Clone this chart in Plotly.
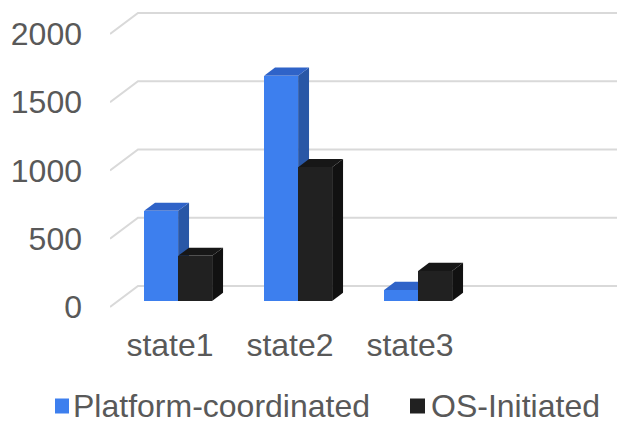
import plotly.graph_objects as go

# ---- data ----
categories = ["state1", "state2", "state3"]
series_names = ["Platform-coordinated", "OS-Initiated"]
platform_coordinated = [660, 1650, 80]
os_initiated = [330, 980, 220]
y_ticks = [0, 500, 1000, 1500, 2000]

# ---- geometry (pixels) ----
W, H = 617, 424
PLOT_L, PLOT_R, PLOT_T, PLOT_B = 110, 617, 0, 320
CAT_PX = 120.0                 # pixels per category slot
Y_SCALE = 273.0 / 2000.0       # pixels per value unit
ZERO_PX = 307                  # pixel row of value 0 on the front plane
DEPTH_PX = (28.0, 21.0)        # full floor depth offset (right, up)
BAR_FRONT = 0.29               # bar front face position along the depth
BAR_DEPTH = 0.39               # bar thickness along the depth
BAR_W_PX = 34.0
FS = 32

x_lo = -0.5
x_hi = x_lo + (PLOT_R - PLOT_L) / CAT_PX
y_lo = -(PLOT_B - ZERO_PX) / Y_SCALE
y_hi = (ZERO_PX - PLOT_T) / Y_SCALE

DX = DEPTH_PX[0] / CAT_PX
DY = DEPTH_PX[1] / Y_SCALE
bar_dx, bar_dy = BAR_FRONT * DX, BAR_FRONT * DY
side_dx, side_dy = BAR_DEPTH * DX, BAR_DEPTH * DY
bar_w = BAR_W_PX / CAT_PX

TEXT = "#595959"
FONT = "Liberation Sans, Arial, sans-serif"
GRID = "#d9d9d9"
colors = {
    "front": ["#3d7fee", "#212121"],
    "top": ["#2f63c8", "#171717"],
    "side": ["#2957a6", "#111111"],
}

xs = list(range(len(categories)))
series = [platform_coordinated, os_initiated]

fig = go.Figure()
shapes = []

# floor / back-wall gridlines
for v in y_ticks:
    shapes.append(dict(
        type="path", layer="below", xref="x", yref="y",
        path=f"M {x_lo},{v} L {x_lo + DX},{v + DY} L {x_hi},{v + DY}",
        line=dict(color=GRID, width=2),
    ))

# front faces as bars, side and top faces as shaded parallelograms
for si, (name, vals) in enumerate(zip(series_names, series)):
    offset = bar_dx + (si - 1) * bar_w
    fig.add_trace(go.Bar(
        x=xs, y=vals, base=[bar_dy] * len(vals), name=name,
        offset=offset, width=bar_w,
        marker=dict(color=colors["front"][si], line=dict(width=0)),
        showlegend=False,
    ))
    for x, v in zip(xs, vals):
        x0 = x + offset
        x1 = x0 + bar_w
        b = bar_dy
        t = bar_dy + v
        shapes.append(dict(
            type="path", layer="below", xref="x", yref="y",
            path=(f"M {x1},{b} L {x1 + side_dx},{b + side_dy} "
                  f"L {x1 + side_dx},{t + side_dy} L {x1},{t} Z"),
            fillcolor=colors["side"][si], line=dict(width=0),
        ))
        shapes.append(dict(
            type="path", layer="below", xref="x", yref="y",
            path=(f"M {x0},{t} L {x0 + side_dx},{t + side_dy} "
                  f"L {x1 + side_dx},{t + side_dy} L {x1},{t} Z"),
            fillcolor=colors["top"][si], line=dict(width=0),
        ))


def px_x(p):
    return (p - PLOT_L) / (PLOT_R - PLOT_L)


def px_y(p):
    return (PLOT_B - p) / (PLOT_B - PLOT_T)


# legend
LEG_Y = 406.0
legend_items = [(55, 69, 72), (410, 425, 430)]
annotations = []
for si, (sq0, sq1, tx) in enumerate(legend_items):
    shapes.append(dict(
        type="rect", xref="paper", yref="paper",
        x0=px_x(sq0), x1=px_x(sq1), y0=px_y(LEG_Y + 7.5), y1=px_y(LEG_Y - 7.5),
        fillcolor=colors["front"][si], line=dict(width=0),
    ))
    annotations.append(dict(
        xref="paper", yref="paper", x=px_x(tx), y=px_y(LEG_Y),
        xanchor="left", yanchor="middle", showarrow=False, borderpad=0,
        text=series_names[si], font=dict(family=FONT, size=FS, color=TEXT),
    ))

fig.update_layout(
    width=W, height=H,
    margin=dict(l=PLOT_L, r=W - PLOT_R, t=PLOT_T, b=H - PLOT_B, pad=0),
    paper_bgcolor="white", plot_bgcolor="white",
    barmode="overlay", bargap=0,
    shapes=shapes, annotations=annotations,
    showlegend=False,
    font=dict(family=FONT, size=FS, color=TEXT),
    xaxis=dict(
        range=[x_lo, x_hi], tickmode="array", tickvals=xs, ticktext=categories,
        showgrid=False, zeroline=False, showline=False, ticks="",
        ticklabelstandoff=3, fixedrange=True,
        tickfont=dict(family=FONT, size=FS, color=TEXT),
    ),
    yaxis=dict(
        range=[y_lo, y_hi], tickmode="array", tickvals=y_ticks,
        showgrid=False, zeroline=False, showline=False, ticks="",
        ticklabelstandoff=27, fixedrange=True,
        tickfont=dict(family=FONT, size=FS, color=TEXT),
    ),
)

fig.write_html("out.html")
